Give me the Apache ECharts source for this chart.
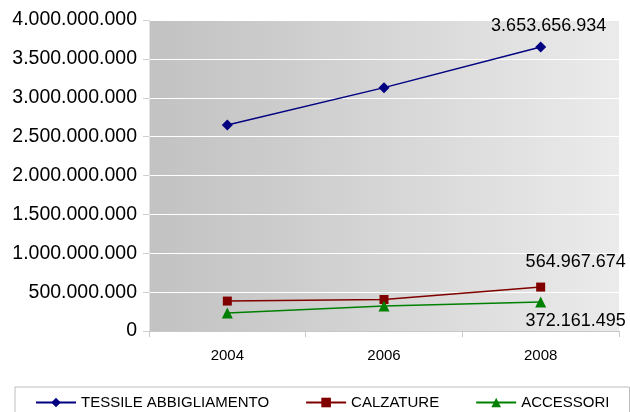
<!DOCTYPE html>
<html>
<head>
<meta charset="utf-8">
<script src="https://cdn.jsdelivr.net/npm/echarts@6/dist/echarts.min.js"></script>
<style>
  html, body { margin: 0; padding: 0; background: #fff; }
  #chart { width: 630px; height: 412px; }
</style>
</head>
<body>
<div id="chart"></div>
<script>
var anni = ['2004', '2006', '2008'];
var tessile = [2650000000, 3130000000, 3653656934];
var calzature = [385000000, 405000000, 564967674];
var accessori = [230000000, 320000000, 372161495];
var nomi = ['TESSILE ABBIGLIAMENTO', 'CALZATURE', 'ACCESSORI'];

// formato italiano con i punti come separatore delle migliaia
function puntini(v) {
    return String(Math.round(v)).replace(/\B(?=(\d{3})+(?!\d))/g, '.');
}

// solo l'ultimo punto ha l'etichetta
function conEtichetta(lista, label) {
    return lista.map(function(v, i) {
        if (i === lista.length - 1) {
            return { value: v, label: label };
        }
        return v;
    });
}

var font = 'Liberation Sans, Arial, sans-serif';
var myChart = echarts.init(document.getElementById('chart'));

myChart.setOption({
    animation: false,
    grid: {
        left: 149,
        right: 11,
        top: 20,
        bottom: 81,
        show: true,
        borderWidth: 0,
        backgroundColor: new echarts.graphic.LinearGradient(0, 0, 1, 0, [
            { offset: 0, color: '#c2c2c2' },
            { offset: 0.3, color: '#cdcdcd' },
            { offset: 1, color: '#ebebeb' }
        ])
    },
    legend: {
        left: 15,
        top: 387,
        padding: [8, 20, 10, 20],
        itemGap: 36,
        itemWidth: 40,
        itemHeight: 12,
        borderColor: '#bdbdbd',
        borderWidth: 1,
        textStyle: { fontFamily: font, fontSize: 15, color: '#000' },
        data: nomi
    },
    xAxis: {
        type: 'category',
        data: anni,
        axisLine: { lineStyle: { color: '#c8c8c8', width: 1 } },
        axisTick: { show: true, length: 6, lineStyle: { color: '#c8c8c8' } },
        axisLabel: { fontFamily: font, fontSize: 15, color: '#000', margin: 17 }
    },
    yAxis: {
        type: 'value',
        min: 0,
        max: 4000000000,
        interval: 500000000,
        axisLine: { show: true, lineStyle: { color: '#e4e4e4', width: 1 } },
        axisTick: { show: true, length: 6, lineStyle: { color: '#d0d0d0' } },
        splitLine: { lineStyle: { color: '#ffffff', width: 1 } },
        axisLabel: {
            fontFamily: font, fontSize: 19.5, color: '#000', margin: 12,
            formatter: puntini
        }
    },
    series: [{
        name: nomi[0],
        type: 'line',
        symbol: 'diamond',
        symbolSize: 11,
        color: '#000080',
        lineStyle: { width: 1.5 },
        data: conEtichetta(tessile, {
            show: true, position: 'top', distance: 6, offset: [8, 0],
            fontFamily: font, fontSize: 18, color: '#000',
            formatter: function(p) { return puntini(p.value); }
        })
    }, {
        name: nomi[1],
        type: 'line',
        symbol: 'rect',
        symbolSize: 9,
        color: '#800000',
        lineStyle: { width: 1.5 },
        data: conEtichetta(calzature, {
            show: true, position: 'top', distance: 6, offset: [35, -6],
            fontFamily: font, fontSize: 18, color: '#000',
            formatter: function(p) { return puntini(p.value); }
        })
    }, {
        name: nomi[2],
        type: 'line',
        symbol: 'triangle',
        symbolSize: 11,
        color: '#008000',
        lineStyle: { width: 1.5 },
        data: conEtichetta(accessori, {
            show: true, position: 'bottom', distance: 4, offset: [35, 0],
            fontFamily: font, fontSize: 18, color: '#000',
            formatter: function(p) { return puntini(p.value); }
        })
    }]
});
</script>
</body>
</html>
